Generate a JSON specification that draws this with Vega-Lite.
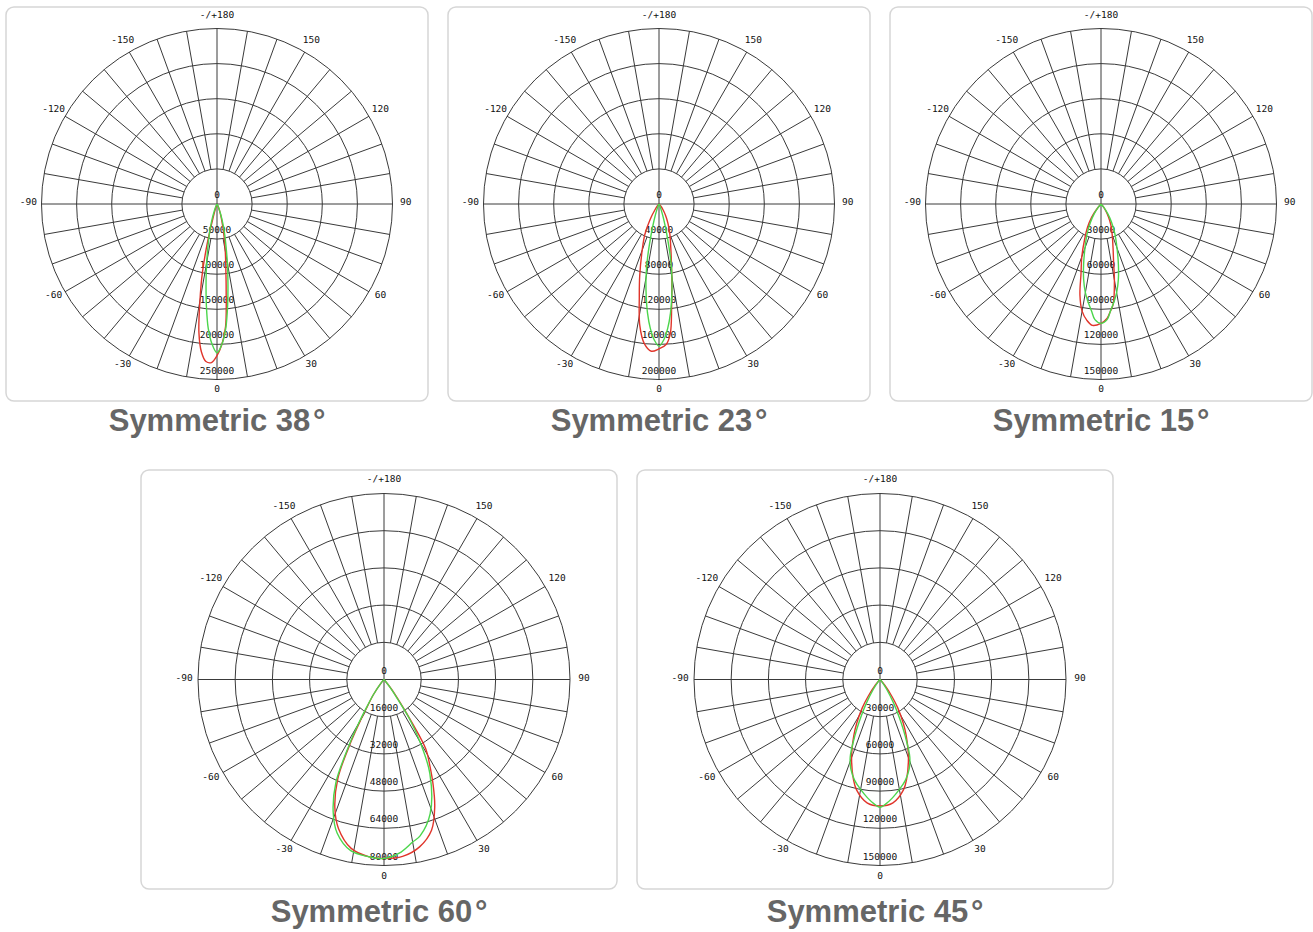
{
"$schema": "https://vega.github.io/schema/vega-lite/v6.json",
"background": "white",
"padding": {"left": 5, "top": 6, "right": 0, "bottom": 0},
"config": {
  "view": {"stroke": "#d6d6d6", "strokeWidth": 1.5, "cornerRadius": 8},
  "title": {"orient": "bottom", "font": "Liberation Sans", "fontSize": 31, "fontWeight": "bold", "color": "#666666", "offset": 6}
},
"datasets": {
  "rings": [{"r":0.2},{"r":0.4},{"r":0.6},{"r":0.8},{"r":1}],
  "spokes": [{"angle":-170,"inner":0.2},{"angle":-160,"inner":0.2},{"angle":-150,"inner":0.2},{"angle":-140,"inner":0.2},{"angle":-130,"inner":0.2},{"angle":-120,"inner":0.2},{"angle":-110,"inner":0.2},{"angle":-100,"inner":0.2},{"angle":-90,"inner":0},{"angle":-80,"inner":0.2},{"angle":-70,"inner":0.2},{"angle":-60,"inner":0.2},{"angle":-50,"inner":0.2},{"angle":-40,"inner":0.2},{"angle":-30,"inner":0.2},{"angle":-20,"inner":0.2},{"angle":-10,"inner":0.2},{"angle":0,"inner":0},{"angle":10,"inner":0.2},{"angle":20,"inner":0.2},{"angle":30,"inner":0.2},{"angle":40,"inner":0.2},{"angle":50,"inner":0.2},{"angle":60,"inner":0.2},{"angle":70,"inner":0.2},{"angle":80,"inner":0.2},{"angle":90,"inner":0},{"angle":100,"inner":0.2},{"angle":110,"inner":0.2},{"angle":120,"inner":0.2},{"angle":130,"inner":0.2},{"angle":140,"inner":0.2},{"angle":150,"inner":0.2},{"angle":160,"inner":0.2},{"angle":170,"inner":0.2},{"angle":180,"inner":0}],
  "angleLabels": [{"angle":180,"t":"-/+180"},{"angle":150,"t":"150"},{"angle":120,"t":"120"},{"angle":90,"t":"90"},{"angle":60,"t":"60"},{"angle":30,"t":"30"},{"angle":0,"t":"0"},{"angle":-30,"t":"-30"},{"angle":-60,"t":"-60"},{"angle":-90,"t":"-90"},{"angle":-120,"t":"-120"},{"angle":-150,"t":"-150"}],
  "c1": [
    {"s":"r","angle":-30,"cd":0},{"s":"r","angle":-20,"cd":3000},{"s":"r","angle":-18,"cd":8000},{"s":"r","angle":-16,"cd":20000},{"s":"r","angle":-14,"cd":55000},{"s":"r","angle":-12,"cd":100000},{"s":"r","angle":-10,"cd":140000},{"s":"r","angle":-8,"cd":185000},{"s":"r","angle":-6,"cd":212000},{"s":"r","angle":-4,"cd":225000},{"s":"r","angle":-2,"cd":226000},{"s":"r","angle":0,"cd":216000},{"s":"r","angle":2,"cd":200000},{"s":"r","angle":4,"cd":175000},{"s":"r","angle":6,"cd":125000},{"s":"r","angle":8,"cd":90000},{"s":"r","angle":10,"cd":68000},{"s":"r","angle":12,"cd":50000},{"s":"r","angle":14,"cd":35000},{"s":"r","angle":16,"cd":25000},{"s":"r","angle":18,"cd":18000},{"s":"r","angle":20,"cd":12000},{"s":"r","angle":25,"cd":4000},{"s":"r","angle":30,"cd":0},
    {"s":"g","angle":-30,"cd":0},{"s":"g","angle":-25,"cd":5000},{"s":"g","angle":-20,"cd":14000},{"s":"g","angle":-18,"cd":22000},{"s":"g","angle":-16,"cd":33000},{"s":"g","angle":-14,"cd":46000},{"s":"g","angle":-12,"cd":62000},{"s":"g","angle":-10,"cd":85000},{"s":"g","angle":-8,"cd":112000},{"s":"g","angle":-6,"cd":145000},{"s":"g","angle":-4,"cd":178000},{"s":"g","angle":-2,"cd":200000},{"s":"g","angle":0,"cd":212000},{"s":"g","angle":2,"cd":200000},{"s":"g","angle":4,"cd":178000},{"s":"g","angle":6,"cd":145000},{"s":"g","angle":8,"cd":112000},{"s":"g","angle":10,"cd":85000},{"s":"g","angle":12,"cd":62000},{"s":"g","angle":14,"cd":46000},{"s":"g","angle":16,"cd":33000},{"s":"g","angle":18,"cd":22000},{"s":"g","angle":20,"cd":14000},{"s":"g","angle":25,"cd":5000},{"s":"g","angle":30,"cd":0}
  ],
  "c2": [
    {"s":"r","angle":-45,"cd":0},{"s":"r","angle":-40,"cd":3000},{"s":"r","angle":-35,"cd":8000},{"s":"r","angle":-30,"cd":20000},{"s":"r","angle":-25,"cd":38000},{"s":"r","angle":-20,"cd":56000},{"s":"r","angle":-15,"cd":85000},{"s":"r","angle":-12,"cd":108000},{"s":"r","angle":-9,"cd":140000},{"s":"r","angle":-6,"cd":160000},{"s":"r","angle":-3,"cd":168000},{"s":"r","angle":0,"cd":165000},{"s":"r","angle":3,"cd":160000},{"s":"r","angle":5,"cd":148000},{"s":"r","angle":7,"cd":118000},{"s":"r","angle":10,"cd":84000},{"s":"r","angle":12,"cd":68000},{"s":"r","angle":15,"cd":52000},{"s":"r","angle":20,"cd":36000},{"s":"r","angle":25,"cd":24000},{"s":"r","angle":30,"cd":15000},{"s":"r","angle":35,"cd":8000},{"s":"r","angle":40,"cd":3000},{"s":"r","angle":45,"cd":0},
    {"s":"g","angle":-30,"cd":0},{"s":"g","angle":-25,"cd":2000},{"s":"g","angle":-20,"cd":8000},{"s":"g","angle":-18,"cd":14000},{"s":"g","angle":-16,"cd":24000},{"s":"g","angle":-14,"cd":40000},{"s":"g","angle":-12,"cd":63000},{"s":"g","angle":-10,"cd":85000},{"s":"g","angle":-8,"cd":105000},{"s":"g","angle":-6,"cd":125000},{"s":"g","angle":-4,"cd":142000},{"s":"g","angle":-2,"cd":155000},{"s":"g","angle":0,"cd":162000},{"s":"g","angle":2,"cd":155000},{"s":"g","angle":4,"cd":142000},{"s":"g","angle":6,"cd":125000},{"s":"g","angle":8,"cd":105000},{"s":"g","angle":10,"cd":85000},{"s":"g","angle":12,"cd":63000},{"s":"g","angle":14,"cd":40000},{"s":"g","angle":16,"cd":24000},{"s":"g","angle":18,"cd":14000},{"s":"g","angle":20,"cd":8000},{"s":"g","angle":25,"cd":2000},{"s":"g","angle":30,"cd":0}
  ],
  "c3": [
    {"s":"r","angle":-45,"cd":0},{"s":"r","angle":-40,"cd":5000},{"s":"r","angle":-35,"cd":14000},{"s":"r","angle":-30,"cd":23000},{"s":"r","angle":-25,"cd":33000},{"s":"r","angle":-20,"cd":48000},{"s":"r","angle":-16,"cd":62000},{"s":"r","angle":-13,"cd":80000},{"s":"r","angle":-10,"cd":93000},{"s":"r","angle":-7,"cd":100000},{"s":"r","angle":-4,"cd":104000},{"s":"r","angle":0,"cd":102000},{"s":"r","angle":3,"cd":98000},{"s":"r","angle":5,"cd":92000},{"s":"r","angle":7,"cd":86000},{"s":"r","angle":10,"cd":66000},{"s":"r","angle":12,"cd":52000},{"s":"r","angle":15,"cd":40000},{"s":"r","angle":20,"cd":28000},{"s":"r","angle":25,"cd":20000},{"s":"r","angle":30,"cd":13000},{"s":"r","angle":35,"cd":7000},{"s":"r","angle":40,"cd":3000},{"s":"r","angle":45,"cd":0},
    {"s":"g","angle":-45,"cd":0},{"s":"g","angle":-40,"cd":4000},{"s":"g","angle":-35,"cd":10000},{"s":"g","angle":-30,"cd":18000},{"s":"g","angle":-25,"cd":28000},{"s":"g","angle":-20,"cd":40000},{"s":"g","angle":-16,"cd":54000},{"s":"g","angle":-13,"cd":66000},{"s":"g","angle":-10,"cd":77000},{"s":"g","angle":-8,"cd":83000},{"s":"g","angle":-5,"cd":92000},{"s":"g","angle":-3,"cd":99000},{"s":"g","angle":0,"cd":102000},{"s":"g","angle":3,"cd":99000},{"s":"g","angle":5,"cd":92000},{"s":"g","angle":8,"cd":83000},{"s":"g","angle":10,"cd":77000},{"s":"g","angle":13,"cd":66000},{"s":"g","angle":16,"cd":54000},{"s":"g","angle":20,"cd":40000},{"s":"g","angle":25,"cd":28000},{"s":"g","angle":30,"cd":18000},{"s":"g","angle":35,"cd":10000},{"s":"g","angle":40,"cd":4000},{"s":"g","angle":45,"cd":0}
  ],
  "c4": [
    {"s":"r","angle":-45,"cd":0},{"s":"r","angle":-40,"cd":2000},{"s":"r","angle":-35,"cd":8000},{"s":"r","angle":-32,"cd":13000},{"s":"r","angle":-30,"cd":20000},{"s":"r","angle":-28,"cd":30000},{"s":"r","angle":-25,"cd":47000},{"s":"r","angle":-21,"cd":59000},{"s":"r","angle":-17,"cd":67000},{"s":"r","angle":-11,"cd":74000},{"s":"r","angle":-5,"cd":76500},{"s":"r","angle":0,"cd":77000},{"s":"r","angle":6,"cd":76500},{"s":"r","angle":12,"cd":73600},{"s":"r","angle":17.5,"cd":68000},{"s":"r","angle":21.7,"cd":59000},{"s":"r","angle":25,"cd":50000},{"s":"r","angle":28,"cd":42000},{"s":"r","angle":31,"cd":35000},{"s":"r","angle":33,"cd":22000},{"s":"r","angle":35,"cd":12000},{"s":"r","angle":38,"cd":5000},{"s":"r","angle":42,"cd":0},
    {"s":"g","angle":-45,"cd":0},{"s":"g","angle":-40,"cd":2000},{"s":"g","angle":-35,"cd":8000},{"s":"g","angle":-32,"cd":14000},{"s":"g","angle":-30,"cd":22000},{"s":"g","angle":-28,"cd":32000},{"s":"g","angle":-25,"cd":49000},{"s":"g","angle":-21,"cd":61000},{"s":"g","angle":-17,"cd":69000},{"s":"g","angle":-11,"cd":75000},{"s":"g","angle":-5,"cd":76500},{"s":"g","angle":0,"cd":77000},{"s":"g","angle":5,"cd":75000},{"s":"g","angle":10,"cd":71000},{"s":"g","angle":13,"cd":69000},{"s":"g","angle":19,"cd":61000},{"s":"g","angle":26,"cd":45000},{"s":"g","angle":30,"cd":31000},{"s":"g","angle":33,"cd":20000},{"s":"g","angle":35,"cd":10000},{"s":"g","angle":38,"cd":4000},{"s":"g","angle":42,"cd":0}
  ],
  "c5": [
    {"s":"r","angle":-45,"cd":0},{"s":"r","angle":-40,"cd":6000},{"s":"r","angle":-35,"cd":17000},{"s":"r","angle":-32,"cd":27000},{"s":"r","angle":-28,"cd":40000},{"s":"r","angle":-25,"cd":50000},{"s":"r","angle":-20,"cd":67000},{"s":"r","angle":-15,"cd":83000},{"s":"r","angle":-12,"cd":91000},{"s":"r","angle":-6,"cd":100000},{"s":"r","angle":0,"cd":102000},{"s":"r","angle":6,"cd":100000},{"s":"r","angle":12,"cd":91000},{"s":"r","angle":15,"cd":83000},{"s":"r","angle":20,"cd":67000},{"s":"r","angle":25,"cd":50000},{"s":"r","angle":28,"cd":40000},{"s":"r","angle":32,"cd":27000},{"s":"r","angle":35,"cd":17000},{"s":"r","angle":40,"cd":6000},{"s":"r","angle":45,"cd":0},
    {"s":"g","angle":-42,"cd":0},{"s":"g","angle":-38,"cd":3000},{"s":"g","angle":-34,"cd":10000},{"s":"g","angle":-30,"cd":22000},{"s":"g","angle":-27,"cd":34000},{"s":"g","angle":-24,"cd":50000},{"s":"g","angle":-21,"cd":67000},{"s":"g","angle":-18,"cd":76000},{"s":"g","angle":-14,"cd":84000},{"s":"g","angle":-10,"cd":90000},{"s":"g","angle":-6,"cd":96000},{"s":"g","angle":-3,"cd":100000},{"s":"g","angle":0,"cd":103000},{"s":"g","angle":3,"cd":100000},{"s":"g","angle":6,"cd":96000},{"s":"g","angle":10,"cd":90000},{"s":"g","angle":14,"cd":84000},{"s":"g","angle":18,"cd":76000},{"s":"g","angle":21,"cd":67000},{"s":"g","angle":24,"cd":50000},{"s":"g","angle":27,"cd":34000},{"s":"g","angle":30,"cd":22000},{"s":"g","angle":34,"cd":10000},{"s":"g","angle":38,"cd":3000},{"s":"g","angle":42,"cd":0}
  ]
},
"vconcat": [
 {"hconcat": [
  {"width": 422, "height": 394, "title": "Symmetric 38\u200a°",
   "layer": [
    {"data": {"name": "rings"}, "mark": {"type": "arc", "filled": false, "stroke": "#3a3a3a", "strokeWidth": 1, "theta": 0, "theta2": 6.2832},
     "encoding": {"radius": {"field": "r", "type": "quantitative", "stack": null, "scale": {"domain": [0, 1], "range": [0, 175.5], "nice": false}}}},
    {"data": {"name": "spokes"},
     "transform": [{"calculate": "datum.inner*sin(datum.angle*PI/180)", "as": "xa"}, {"calculate": "-datum.inner*cos(datum.angle*PI/180)", "as": "ya"}, {"calculate": "sin(datum.angle*PI/180)", "as": "xb"}, {"calculate": "-cos(datum.angle*PI/180)", "as": "yb"}],
     "mark": {"type": "rule", "color": "#3a3a3a", "strokeWidth": 1},
     "encoding": {"x": {"field": "xa", "type": "quantitative", "scale": {"domain": [-1.2023, 1.2023], "nice": false, "zero": false}, "axis": null}, "y": {"field": "ya", "type": "quantitative", "scale": {"domain": [-1.1225, 1.1225], "nice": false, "zero": false}, "axis": null}, "x2": {"field": "xb"}, "y2": {"field": "yb"}}},
    {"data": {"name": "angleLabels"},
     "transform": [{"calculate": "1.075*sin(datum.angle*PI/180)", "as": "x"}, {"calculate": "-1.065*cos(datum.angle*PI/180)", "as": "y"}],
     "mark": {"type": "text", "font": "DejaVu Sans Mono", "fontSize": 9.5, "color": "#111", "dy": -2},
     "encoding": {"x": {"field": "x", "type": "quantitative"}, "y": {"field": "y", "type": "quantitative"}, "text": {"field": "t"}}},
    {"data": {"values": [{"v": 0}, {"v": 50000}, {"v": 100000}, {"v": 150000}, {"v": 200000}, {"v": 250000}]},
     "transform": [{"calculate": "0", "as": "x"}, {"calculate": "-datum.v/250000", "as": "y"}],
     "mark": {"type": "text", "font": "DejaVu Sans Mono", "fontSize": 9.5, "color": "#111", "dy": -9},
     "encoding": {"x": {"field": "x", "type": "quantitative"}, "y": {"field": "y", "type": "quantitative"}, "text": {"field": "v", "type": "quantitative", "format": "d"}}},
    {"data": {"name": "c1"},
     "transform": [{"filter": "datum.s == 'r'"}, {"calculate": "datum.cd/250000*sin(datum.angle*PI/180)", "as": "x"}, {"calculate": "-datum.cd/250000*cos(datum.angle*PI/180)", "as": "y"}],
     "mark": {"type": "line", "color": "#e0352b", "strokeWidth": 1.4, "interpolate": "catmull-rom"},
     "encoding": {"x": {"field": "x", "type": "quantitative"}, "y": {"field": "y", "type": "quantitative"}, "order": {"field": "angle", "type": "quantitative"}}},
    {"data": {"name": "c1"},
     "transform": [{"filter": "datum.s == 'g'"}, {"calculate": "datum.cd/250000*sin(datum.angle*PI/180)", "as": "x"}, {"calculate": "-datum.cd/250000*cos(datum.angle*PI/180)", "as": "y"}],
     "mark": {"type": "line", "color": "#4cd64c", "strokeWidth": 1.4, "interpolate": "catmull-rom"},
     "encoding": {"x": {"field": "x", "type": "quantitative"}, "y": {"field": "y", "type": "quantitative"}, "order": {"field": "angle", "type": "quantitative"}}}
   ]},
  {"width": 422, "height": 394, "title": "Symmetric 23\u200a°",
   "layer": [
    {"data": {"name": "rings"}, "mark": {"type": "arc", "filled": false, "stroke": "#3a3a3a", "strokeWidth": 1, "theta": 0, "theta2": 6.2832},
     "encoding": {"radius": {"field": "r", "type": "quantitative", "stack": null, "scale": {"domain": [0, 1], "range": [0, 175.5], "nice": false}}}},
    {"data": {"name": "spokes"},
     "transform": [{"calculate": "datum.inner*sin(datum.angle*PI/180)", "as": "xa"}, {"calculate": "-datum.inner*cos(datum.angle*PI/180)", "as": "ya"}, {"calculate": "sin(datum.angle*PI/180)", "as": "xb"}, {"calculate": "-cos(datum.angle*PI/180)", "as": "yb"}],
     "mark": {"type": "rule", "color": "#3a3a3a", "strokeWidth": 1},
     "encoding": {"x": {"field": "xa", "type": "quantitative", "scale": {"domain": [-1.2023, 1.2023], "nice": false, "zero": false}, "axis": null}, "y": {"field": "ya", "type": "quantitative", "scale": {"domain": [-1.1225, 1.1225], "nice": false, "zero": false}, "axis": null}, "x2": {"field": "xb"}, "y2": {"field": "yb"}}},
    {"data": {"name": "angleLabels"},
     "transform": [{"calculate": "1.075*sin(datum.angle*PI/180)", "as": "x"}, {"calculate": "-1.065*cos(datum.angle*PI/180)", "as": "y"}],
     "mark": {"type": "text", "font": "DejaVu Sans Mono", "fontSize": 9.5, "color": "#111", "dy": -2},
     "encoding": {"x": {"field": "x", "type": "quantitative"}, "y": {"field": "y", "type": "quantitative"}, "text": {"field": "t"}}},
    {"data": {"values": [{"v": 0}, {"v": 40000}, {"v": 80000}, {"v": 120000}, {"v": 160000}, {"v": 200000}]},
     "transform": [{"calculate": "0", "as": "x"}, {"calculate": "-datum.v/200000", "as": "y"}],
     "mark": {"type": "text", "font": "DejaVu Sans Mono", "fontSize": 9.5, "color": "#111", "dy": -9},
     "encoding": {"x": {"field": "x", "type": "quantitative"}, "y": {"field": "y", "type": "quantitative"}, "text": {"field": "v", "type": "quantitative", "format": "d"}}},
    {"data": {"name": "c2"},
     "transform": [{"filter": "datum.s == 'r'"}, {"calculate": "datum.cd/200000*sin(datum.angle*PI/180)", "as": "x"}, {"calculate": "-datum.cd/200000*cos(datum.angle*PI/180)", "as": "y"}],
     "mark": {"type": "line", "color": "#e0352b", "strokeWidth": 1.4, "interpolate": "catmull-rom"},
     "encoding": {"x": {"field": "x", "type": "quantitative"}, "y": {"field": "y", "type": "quantitative"}, "order": {"field": "angle", "type": "quantitative"}}},
    {"data": {"name": "c2"},
     "transform": [{"filter": "datum.s == 'g'"}, {"calculate": "datum.cd/200000*sin(datum.angle*PI/180)", "as": "x"}, {"calculate": "-datum.cd/200000*cos(datum.angle*PI/180)", "as": "y"}],
     "mark": {"type": "line", "color": "#4cd64c", "strokeWidth": 1.4, "interpolate": "catmull-rom"},
     "encoding": {"x": {"field": "x", "type": "quantitative"}, "y": {"field": "y", "type": "quantitative"}, "order": {"field": "angle", "type": "quantitative"}}}
   ]},
  {"width": 422, "height": 394, "title": "Symmetric 15\u200a°",
   "layer": [
    {"data": {"name": "rings"}, "mark": {"type": "arc", "filled": false, "stroke": "#3a3a3a", "strokeWidth": 1, "theta": 0, "theta2": 6.2832},
     "encoding": {"radius": {"field": "r", "type": "quantitative", "stack": null, "scale": {"domain": [0, 1], "range": [0, 175.5], "nice": false}}}},
    {"data": {"name": "spokes"},
     "transform": [{"calculate": "datum.inner*sin(datum.angle*PI/180)", "as": "xa"}, {"calculate": "-datum.inner*cos(datum.angle*PI/180)", "as": "ya"}, {"calculate": "sin(datum.angle*PI/180)", "as": "xb"}, {"calculate": "-cos(datum.angle*PI/180)", "as": "yb"}],
     "mark": {"type": "rule", "color": "#3a3a3a", "strokeWidth": 1},
     "encoding": {"x": {"field": "xa", "type": "quantitative", "scale": {"domain": [-1.2023, 1.2023], "nice": false, "zero": false}, "axis": null}, "y": {"field": "ya", "type": "quantitative", "scale": {"domain": [-1.1225, 1.1225], "nice": false, "zero": false}, "axis": null}, "x2": {"field": "xb"}, "y2": {"field": "yb"}}},
    {"data": {"name": "angleLabels"},
     "transform": [{"calculate": "1.075*sin(datum.angle*PI/180)", "as": "x"}, {"calculate": "-1.065*cos(datum.angle*PI/180)", "as": "y"}],
     "mark": {"type": "text", "font": "DejaVu Sans Mono", "fontSize": 9.5, "color": "#111", "dy": -2},
     "encoding": {"x": {"field": "x", "type": "quantitative"}, "y": {"field": "y", "type": "quantitative"}, "text": {"field": "t"}}},
    {"data": {"values": [{"v": 0}, {"v": 30000}, {"v": 60000}, {"v": 90000}, {"v": 120000}, {"v": 150000}]},
     "transform": [{"calculate": "0", "as": "x"}, {"calculate": "-datum.v/150000", "as": "y"}],
     "mark": {"type": "text", "font": "DejaVu Sans Mono", "fontSize": 9.5, "color": "#111", "dy": -9},
     "encoding": {"x": {"field": "x", "type": "quantitative"}, "y": {"field": "y", "type": "quantitative"}, "text": {"field": "v", "type": "quantitative", "format": "d"}}},
    {"data": {"name": "c3"},
     "transform": [{"filter": "datum.s == 'r'"}, {"calculate": "datum.cd/150000*sin(datum.angle*PI/180)", "as": "x"}, {"calculate": "-datum.cd/150000*cos(datum.angle*PI/180)", "as": "y"}],
     "mark": {"type": "line", "color": "#e0352b", "strokeWidth": 1.4, "interpolate": "catmull-rom"},
     "encoding": {"x": {"field": "x", "type": "quantitative"}, "y": {"field": "y", "type": "quantitative"}, "order": {"field": "angle", "type": "quantitative"}}},
    {"data": {"name": "c3"},
     "transform": [{"filter": "datum.s == 'g'"}, {"calculate": "datum.cd/150000*sin(datum.angle*PI/180)", "as": "x"}, {"calculate": "-datum.cd/150000*cos(datum.angle*PI/180)", "as": "y"}],
     "mark": {"type": "line", "color": "#4cd64c", "strokeWidth": 1.4, "interpolate": "catmull-rom"},
     "encoding": {"x": {"field": "x", "type": "quantitative"}, "y": {"field": "y", "type": "quantitative"}, "order": {"field": "angle", "type": "quantitative"}}}
   ]}
 ], "spacing": 18, "resolve": {"scale": {"x": "independent", "y": "independent", "radius": "independent"}}},
 {"hconcat": [
  {"width": 116, "height": 10, "view": {"stroke": null}, "data": {"values": [{"a": 1}]}, "mark": {"type": "point", "opacity": 0}, "encoding": {}},
  {"width": 476, "height": 419, "title": {"text": "Symmetric 60\u200a°", "offset": 9},
   "layer": [
    {"data": {"name": "rings"}, "mark": {"type": "arc", "filled": false, "stroke": "#3a3a3a", "strokeWidth": 1, "theta": 0, "theta2": 6.2832, "xOffset": 5},
     "encoding": {"radius": {"field": "r", "type": "quantitative", "stack": null, "scale": {"domain": [0, 1], "range": [0, 186], "nice": false}}}},
    {"data": {"name": "spokes"},
     "transform": [{"calculate": "datum.inner*sin(datum.angle*PI/180)", "as": "xa"}, {"calculate": "-datum.inner*cos(datum.angle*PI/180)", "as": "ya"}, {"calculate": "sin(datum.angle*PI/180)", "as": "xb"}, {"calculate": "-cos(datum.angle*PI/180)", "as": "yb"}],
     "mark": {"type": "rule", "color": "#3a3a3a", "strokeWidth": 1},
     "encoding": {"x": {"field": "xa", "type": "quantitative", "scale": {"domain": [-1.3065, 1.2527], "nice": false, "zero": false}, "axis": null}, "y": {"field": "ya", "type": "quantitative", "scale": {"domain": [-1.1263, 1.1263], "nice": false, "zero": false}, "axis": null}, "x2": {"field": "xb"}, "y2": {"field": "yb"}}},
    {"data": {"name": "angleLabels"},
     "transform": [{"calculate": "1.075*sin(datum.angle*PI/180)", "as": "x"}, {"calculate": "-1.065*cos(datum.angle*PI/180)", "as": "y"}],
     "mark": {"type": "text", "font": "DejaVu Sans Mono", "fontSize": 9.5, "color": "#111", "dy": -2},
     "encoding": {"x": {"field": "x", "type": "quantitative"}, "y": {"field": "y", "type": "quantitative"}, "text": {"field": "t"}}},
    {"data": {"values": [{"v": 0}, {"v": 16000}, {"v": 32000}, {"v": 48000}, {"v": 64000}, {"v": 80000}]},
     "transform": [{"calculate": "0", "as": "x"}, {"calculate": "-datum.v/80000", "as": "y"}],
     "mark": {"type": "text", "font": "DejaVu Sans Mono", "fontSize": 9.5, "color": "#111", "dy": -9},
     "encoding": {"x": {"field": "x", "type": "quantitative"}, "y": {"field": "y", "type": "quantitative"}, "text": {"field": "v", "type": "quantitative", "format": "d"}}},
    {"data": {"name": "c4"},
     "transform": [{"filter": "datum.s == 'r'"}, {"calculate": "datum.cd/80000*sin(datum.angle*PI/180)", "as": "x"}, {"calculate": "-datum.cd/80000*cos(datum.angle*PI/180)", "as": "y"}],
     "mark": {"type": "line", "color": "#e0352b", "strokeWidth": 1.4, "interpolate": "catmull-rom"},
     "encoding": {"x": {"field": "x", "type": "quantitative"}, "y": {"field": "y", "type": "quantitative"}, "order": {"field": "angle", "type": "quantitative"}}},
    {"data": {"name": "c4"},
     "transform": [{"filter": "datum.s == 'g'"}, {"calculate": "datum.cd/80000*sin(datum.angle*PI/180)", "as": "x"}, {"calculate": "-datum.cd/80000*cos(datum.angle*PI/180)", "as": "y"}],
     "mark": {"type": "line", "color": "#4cd64c", "strokeWidth": 1.4, "interpolate": "catmull-rom"},
     "encoding": {"x": {"field": "x", "type": "quantitative"}, "y": {"field": "y", "type": "quantitative"}, "order": {"field": "angle", "type": "quantitative"}}}
   ]},
  {"width": 476, "height": 419, "title": {"text": "Symmetric 45\u200a°", "offset": 9},
   "layer": [
    {"data": {"name": "rings"}, "mark": {"type": "arc", "filled": false, "stroke": "#3a3a3a", "strokeWidth": 1, "theta": 0, "theta2": 6.2832, "xOffset": 5},
     "encoding": {"radius": {"field": "r", "type": "quantitative", "stack": null, "scale": {"domain": [0, 1], "range": [0, 186], "nice": false}}}},
    {"data": {"name": "spokes"},
     "transform": [{"calculate": "datum.inner*sin(datum.angle*PI/180)", "as": "xa"}, {"calculate": "-datum.inner*cos(datum.angle*PI/180)", "as": "ya"}, {"calculate": "sin(datum.angle*PI/180)", "as": "xb"}, {"calculate": "-cos(datum.angle*PI/180)", "as": "yb"}],
     "mark": {"type": "rule", "color": "#3a3a3a", "strokeWidth": 1},
     "encoding": {"x": {"field": "xa", "type": "quantitative", "scale": {"domain": [-1.3065, 1.2527], "nice": false, "zero": false}, "axis": null}, "y": {"field": "ya", "type": "quantitative", "scale": {"domain": [-1.1263, 1.1263], "nice": false, "zero": false}, "axis": null}, "x2": {"field": "xb"}, "y2": {"field": "yb"}}},
    {"data": {"name": "angleLabels"},
     "transform": [{"calculate": "1.075*sin(datum.angle*PI/180)", "as": "x"}, {"calculate": "-1.065*cos(datum.angle*PI/180)", "as": "y"}],
     "mark": {"type": "text", "font": "DejaVu Sans Mono", "fontSize": 9.5, "color": "#111", "dy": -2},
     "encoding": {"x": {"field": "x", "type": "quantitative"}, "y": {"field": "y", "type": "quantitative"}, "text": {"field": "t"}}},
    {"data": {"values": [{"v": 0}, {"v": 30000}, {"v": 60000}, {"v": 90000}, {"v": 120000}, {"v": 150000}]},
     "transform": [{"calculate": "0", "as": "x"}, {"calculate": "-datum.v/150000", "as": "y"}],
     "mark": {"type": "text", "font": "DejaVu Sans Mono", "fontSize": 9.5, "color": "#111", "dy": -9},
     "encoding": {"x": {"field": "x", "type": "quantitative"}, "y": {"field": "y", "type": "quantitative"}, "text": {"field": "v", "type": "quantitative", "format": "d"}}},
    {"data": {"name": "c5"},
     "transform": [{"filter": "datum.s == 'r'"}, {"calculate": "datum.cd/150000*sin(datum.angle*PI/180)", "as": "x"}, {"calculate": "-datum.cd/150000*cos(datum.angle*PI/180)", "as": "y"}],
     "mark": {"type": "line", "color": "#e0352b", "strokeWidth": 1.4, "interpolate": "catmull-rom"},
     "encoding": {"x": {"field": "x", "type": "quantitative"}, "y": {"field": "y", "type": "quantitative"}, "order": {"field": "angle", "type": "quantitative"}}},
    {"data": {"name": "c5"},
     "transform": [{"filter": "datum.s == 'g'"}, {"calculate": "datum.cd/150000*sin(datum.angle*PI/180)", "as": "x"}, {"calculate": "-datum.cd/150000*cos(datum.angle*PI/180)", "as": "y"}],
     "mark": {"type": "line", "color": "#4cd64c", "strokeWidth": 1.4, "interpolate": "catmull-rom"},
     "encoding": {"x": {"field": "x", "type": "quantitative"}, "y": {"field": "y", "type": "quantitative"}, "order": {"field": "angle", "type": "quantitative"}}}
   ]}
 ], "spacing": 18, "resolve": {"scale": {"x": "independent", "y": "independent", "radius": "independent"}}}
],
"spacing": 31,
"resolve": {"scale": {"x": "independent", "y": "independent", "radius": "independent"}}
}
